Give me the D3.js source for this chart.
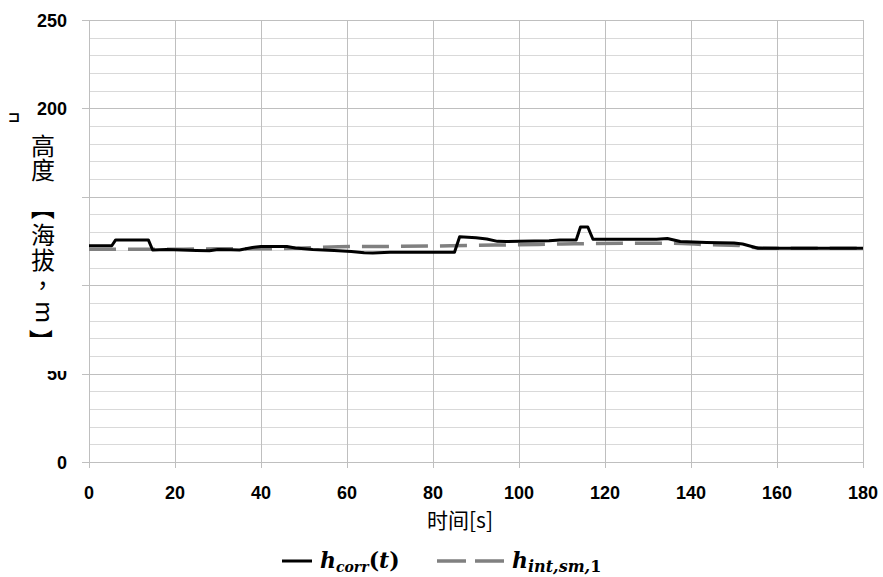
<!DOCTYPE html>
<html><head><meta charset="utf-8">
<script src="https://cdn.jsdelivr.net/npm/d3@7"></script>
<style>body{margin:0;background:#fff}svg{display:block}</style>
</head><body>
<script>
const tCorr = [0,5.3,6.2,13.8,14.8,18,25,28,30,33,35,38,40,46,48,52,57,61,64,66,70,85,86.2,90,92.5,95,97,100,107,109.5,113.3,114.3,116,117.2,132,134.5,137.5,143.6,150,152,155.6,180];
const hCorr = [122.3,122.3,125.6,125.6,119.9,120.2,119.6,119.5,120.2,120.1,119.9,121.3,121.9,121.9,121.0,120.2,119.6,119.1,118.4,118.2,118.6,118.6,127.4,126.8,126.1,124.8,124.7,124.8,125.1,125.6,125.6,132.9,132.9,126.0,126.0,126.4,124.7,124.2,123.9,123.3,120.9,120.9];
const tInt = [0,20,30,40,50,58,68,84,100,110,125,136,144,151,156,160,180];
const hInt = [120.3,120.3,120.6,120.6,121.0,121.8,121.9,122.3,122.9,123.3,123.7,123.7,122.9,122.5,121.0,120.9,120.9];
const xTicks = [0,20,40,60,80,100,120,140,160,180];
const yTicks = [0,50,100,150,200,250];
const yMinor = d3.range(0,251,10);
const xTitle = "时间[s]";
const yTitle = "高度【海拔，m】";

const W=883,H=577;
const svg=d3.select("body").append("svg").attr("width",W).attr("height",H);
const x=d3.scaleLinear().domain([0,180]).range([89,863]);
const y=d3.scaleLinear().domain([0,250]).range([462,20]);

// minor grid
svg.append("g").selectAll("line").data(yMinor.filter(v=>v%50!==0)).join("line")
  .attr("x1",x(0)).attr("x2",x(180)).attr("y1",d=>Math.round(y(d))+0.5).attr("y2",d=>Math.round(y(d))+0.5)
  .attr("stroke","#d9d9d9").attr("stroke-width",1);
// vertical grid
svg.append("g").selectAll("line").data(xTicks).join("line")
  .attr("x1",d=>Math.round(x(d))+0.5).attr("x2",d=>Math.round(x(d))+0.5).attr("y1",y(250)).attr("y2",y(0)+6)
  .attr("stroke","#bfbfbf").attr("stroke-width",1);
// major horizontal grid
svg.append("g").selectAll("line").data(yTicks).join("line")
  .attr("x1",x(0)-7).attr("x2",x(180)).attr("y1",d=>Math.round(y(d))+0.5).attr("y2",d=>Math.round(y(d))+0.5)
  .attr("stroke","#bfbfbf").attr("stroke-width",1);

// tick labels
svg.append("g").selectAll("text").data(yTicks).join("text")
  .attr("x",67).attr("y",d=>y(d)+6.5).attr("text-anchor","end")
  .attr("font-family","Liberation Sans, Arial, sans-serif").attr("font-weight","bold").attr("font-size",18)
  .attr("fill","#000").text(d=>d);
svg.append("g").selectAll("text").data(xTicks).join("text")
  .attr("x",d=>x(d)).attr("y",499).attr("text-anchor","middle")
  .attr("font-family","Liberation Sans, Arial, sans-serif").attr("font-weight","bold").attr("font-size",18)
  .attr("fill","#000").text(d=>d);

// lines
const lineI=d3.line().x((d,i)=>x(tInt[i])).y(d=>y(d)).curve(d3.curveMonotoneX);
svg.append("path").datum(hInt).attr("d",lineI).attr("fill","none")
  .attr("stroke","#808080").attr("stroke-width",3.5).attr("stroke-dasharray","27,12");
const lineC=d3.line().x((d,i)=>x(tCorr[i])).y(d=>y(d));
svg.append("path").datum(hCorr).attr("d",lineC).attr("fill","none")
  .attr("stroke","#000").attr("stroke-width",3).attr("stroke-linejoin","round");

// y title with white backing covering tick labels
svg.append("rect").attr("x",28).attr("y",126).attr("width",52).attr("height",245).attr("fill","#fff");
svg.append("text").attr("x",14).attr("y",122).attr("text-anchor","middle")
  .attr("font-family","DejaVu Sans").attr("font-weight","bold").attr("font-size",15)
  .attr("fill","#000").text("⊐");
// stacked vertical characters: glyph origin x, baseline y, rotation
const chars = Array.from(yTitle);
const gx = [31,31,34,31,31,37,36,32];
const gy = [155,179,196,244,269,287,301,329];
const gr = [0,0,90,0,0,0,90,90];
const tt = svg.append("text").attr("font-family","Noto Sans CJK SC").attr("font-size",24).attr("fill","#000");
tt.selectAll("tspan").data(chars).join("tspan")
  .attr("x",(d,i)=>gx[i]).attr("y",(d,i)=>gy[i]).attr("rotate",(d,i)=>gr[i])
  .text(d=>d);

// x title
svg.append("text").attr("x",460).attr("y",528).attr("text-anchor","middle")
  .attr("font-family","Noto Sans CJK SC").attr("font-size",21).attr("fill","#000").text(xTitle);

// legend
const lg=svg.append("g");
lg.append("line").attr("x1",282).attr("x2",312).attr("y1",561).attr("y2",561).attr("stroke","#000").attr("stroke-width",3);
const t1=lg.append("text").attr("x",320).attr("y",568).attr("font-family","DejaVu Serif").attr("font-weight","bold").attr("font-style","italic").attr("font-size",22).attr("fill","#000");
t1.append("tspan").text("h");
t1.append("tspan").attr("font-size",14).attr("dy",4).text("corr");
t1.append("tspan").attr("dy",-4).attr("font-style","normal").text("(");
t1.append("tspan").text("t");
t1.append("tspan").attr("font-style","normal").text(")");
lg.append("line").attr("x1",437).attr("x2",505).attr("y1",561).attr("y2",561).attr("stroke","#808080").attr("stroke-width",3.5).attr("stroke-dasharray","29,9");
const t2=lg.append("text").attr("x",512).attr("y",568).attr("font-family","DejaVu Serif").attr("font-weight","bold").attr("font-style","italic").attr("font-size",22).attr("fill","#000");
t2.append("tspan").text("h");
t2.append("tspan").attr("font-size",16).attr("dy",4).text("int,sm,");
t2.append("tspan").attr("font-size",16).attr("font-style","normal").text("1");
</script>
</body></html>
